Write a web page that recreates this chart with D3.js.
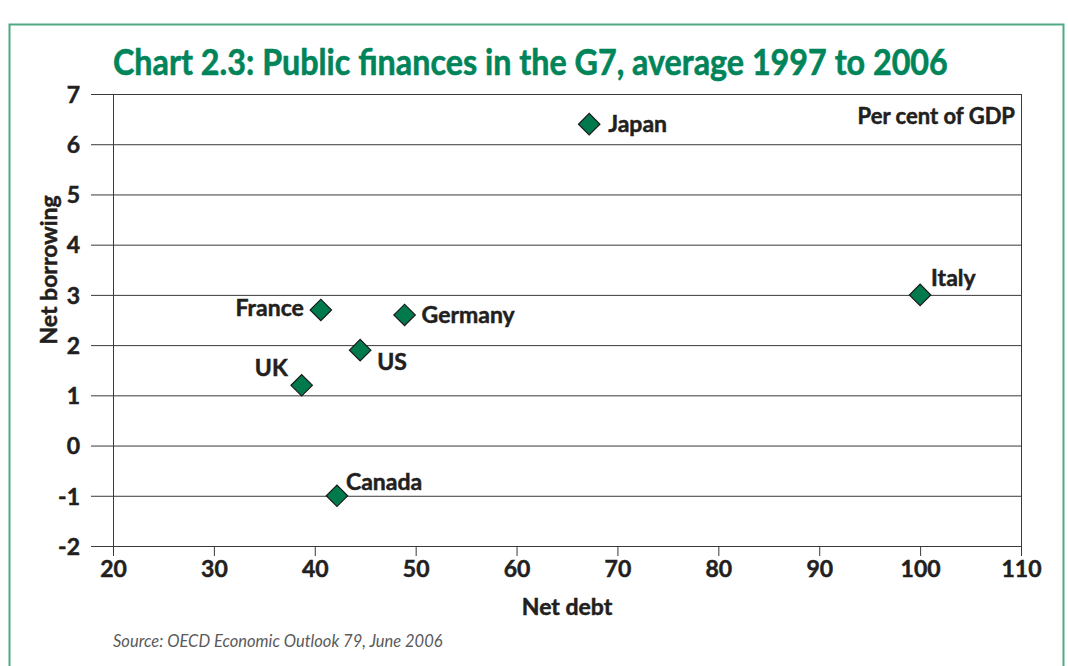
<!DOCTYPE html>
<html>
<head>
<meta charset="utf-8">
<script src="https://cdn.jsdelivr.net/npm/d3@7"></script>
<style>
  body { margin: 0; background: #fff; }
  svg { display: block; font-family: Lato, "Open Sans", sans-serif; }
</style>
</head>
<body>
<svg id="chart" width="1068" height="666"></svg>
<script>
// Data (per cent of GDP)
const countries = ["Japan", "Italy", "France", "Germany", "US", "UK", "Canada"];
const netDebt = [67.2, 100, 40.6, 48.9, 44.5, 38.7, 42.2];
const netBorrowing = [6.4, 3.0, 2.7, 2.6, 1.9, 1.2, -1.0];
const xTicks = [20, 30, 40, 50, 60, 70, 80, 90, 100, 110];
const yTicks = [-2, -1, 0, 1, 2, 3, 4, 5, 6, 7];

// label placement next to each marker (dx, dy, anchor)
const labelPlace = {
  Japan:   [19, 8, "start"],
  Italy:   [11, -9, "start"],
  France:  [-17, 6, "end"],
  Germany: [17, 8, "start"],
  US:      [17, 20, "start"],
  UK:      [-14, -9, "end"],
  Canada:  [9, -6, "start"]
};

const points = countries.map((c, i) => ({ name: c, debt: netDebt[i], borrow: netBorrowing[i] }));

const svg = d3.select("#chart");
const margin = { top: 94, left: 113, right: 47, bottom: 120 };
const width = 1068 - margin.left - margin.right;
const height = 666 - margin.top - margin.bottom;

const green = "#00845a";
const ink = "#231f20";

// helper for the heavy bold text used everywhere
function bold(sel, size) {
  return sel
    .attr("fill", ink)
    .attr("stroke", ink)
    .attr("stroke-width", 0.5)
    .attr("font-size", size)
    .attr("font-weight", 700)
    .attr("font-family", "Lato, sans-serif");
}

// outer green frame
svg.append("rect")
  .attr("x", 9.5).attr("y", 24.5)
  .attr("width", 1054).attr("height", 700)
  .attr("fill", "none")
  .attr("stroke", "#4fa983")
  .attr("stroke-width", 2);

// title - squeezed horizontally to mimic the condensed face
const titleG = svg.append("g").attr("transform", "translate(113,75)");
const title = titleG.append("text")
  .attr("x", 0).attr("y", 0)
  .attr("fill", green)
  .attr("stroke", green)
  .attr("stroke-width", 0.6)
  .attr("font-size", 37)
  .attr("font-weight", 700)
  .text("Chart 2.3: Public finances in the G7, average 1997 to 2006");
const natural = title.node().getComputedTextLength();
titleG.attr("transform", `translate(113,75) scale(${835 / natural},1)`);

const g = svg.append("g").attr("transform", `translate(${margin.left},${margin.top})`);

const x = d3.scaleLinear().domain([20, 110]).range([0, width]);
const y = d3.scaleLinear().domain([-2, 7]).range([height, 0]);

// horizontal gridlines + left ticks
const yAxis = g.append("g")
  .call(d3.axisLeft(y).tickValues(yTicks).tickSize(-width).tickSizeOuter(0).tickPadding(33).tickFormat((d) => String(d)));
yAxis.select(".domain").remove();
yAxis.selectAll(".tick line")
  .attr("x1", -22)
  .attr("stroke", "#3a3a3a");
bold(yAxis.selectAll(".tick text"), 23).attr("dy", "0.36em");

// bottom axis
const xAxis = g.append("g")
  .attr("transform", `translate(0,${height})`)
  .call(d3.axisBottom(x).tickValues(xTicks).tickSize(10).tickSizeOuter(0).tickPadding(5).tickFormat((d) => String(d)));
xAxis.select(".domain").remove();
xAxis.selectAll(".tick line").attr("stroke", "#3a3a3a");
bold(xAxis.selectAll(".tick text"), 23);

// left axis line and right border
g.append("line")
  .attr("x1", 0.5).attr("x2", 0.5)
  .attr("y1", 0).attr("y2", height + 10)
  .attr("stroke", "#3a3a3a");
g.append("line")
  .attr("x1", width + 0.5).attr("x2", width + 0.5)
  .attr("y1", 0).attr("y2", height + 10)
  .attr("stroke", "#3a3a3a");

// axis titles
bold(svg.append("text"), 23)
  .attr("x", 567).attr("y", 615)
  .attr("text-anchor", "middle")
  .text("Net debt");

bold(svg.append("text"), 23)
  .attr("transform", "translate(57,270) rotate(-90)")
  .attr("text-anchor", "middle")
  .text("Net borrowing");

bold(svg.append("text"), 22)
  .attr("x", 1015).attr("y", 124)
  .attr("text-anchor", "end")
  .text("Per cent of GDP");

// source note
svg.append("text")
  .attr("x", 113).attr("y", 647)
  .attr("fill", "#5a5a5a")
  .attr("font-size", 16.5)
  .attr("font-style", "italic")
  .text("Source: OECD Economic Outlook 79, June 2006");

// markers
const diamond = d3.symbol().type(d3.symbolSquare).size(230);
const pts = g.selectAll(".pt").data(points).enter().append("g")
  .attr("class", "pt")
  .attr("transform", (d) => `translate(${x(d.debt)},${y(d.borrow)})`);

pts.append("path")
  .attr("d", diamond)
  .attr("transform", "rotate(45)")
  .attr("fill", "#007a4d")
  .attr("stroke", "#1a1a1a")
  .attr("stroke-width", 1.2);

bold(pts.append("text"), 23)
  .attr("x", (d) => labelPlace[d.name][0])
  .attr("y", (d) => labelPlace[d.name][1])
  .attr("text-anchor", (d) => labelPlace[d.name][2])
  .text((d) => d.name);
</script>
</body>
</html>
